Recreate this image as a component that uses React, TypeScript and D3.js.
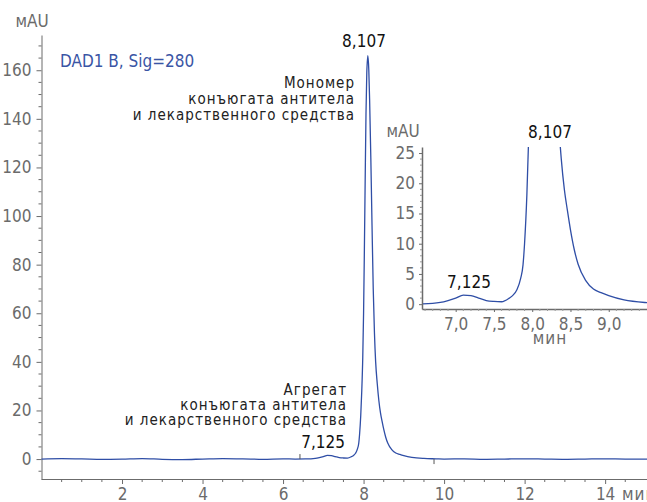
import React, { useEffect, useRef } from "react";
import * as d3 from "d3";

// retention time (min) and detector signal (mAU)
const times = [
  0, 0.5, 1, 1.5, 2, 2.5, 3, 3.5, 4, 4.5, 5, 5.5, 6, 6.3, 6.56, 6.8, 6.9, 7.0,
  7.1, 7.2, 7.3, 7.4, 7.5, 7.6, 7.7, 7.75, 7.8, 7.85, 7.88, 7.9, 7.93, 7.955,
  7.98, 8.0, 8.02, 8.04, 8.06, 8.08, 8.107, 8.13, 8.15, 8.18, 8.21, 8.24, 8.27,
  8.3, 8.34, 8.38, 8.42, 8.46, 8.5, 8.55, 8.6, 8.7, 8.8, 8.9, 9.0, 9.2, 9.5,
  9.8, 10, 10.5, 11, 11.5, 12, 12.5, 13, 13.5, 14, 14.5, 15.04,
];
const signal = [
  0, 0.2, 0.1, -0.1, 0, 0.2, -0.1, -0.2, 0, 0.2, 0.1, -0.1, 0.1, 0, 0.05, 0.3,
  0.6, 1.0, 1.5, 1.4, 1.0, 0.6, 0.45, 0.4, 1.0, 1.5, 2.4, 4.3, 6.5, 10, 18, 28,
  42, 60, 86, 115, 142, 159, 166, 160, 148, 124, 96, 70, 52, 40, 31, 24, 19,
  15.5, 12.3, 9, 6.6, 3.9, 2.5, 1.9, 1.4, 0.7, 0.25, 0.1, 0, 0.1, -0.1, 0,
  0.1, 0, -0.1, 0, 0.1, 0, 0,
];

const mainYTicks = [0, 20, 40, 60, 80, 100, 120, 140, 160];
const mainXTicks = [2, 4, 6, 8, 10, 12, 14];
const insetYTicks = [0, 5, 10, 15, 20, 25];
const insetXTicks = [7.0, 7.5, 8.0, 8.5, 9.0];

// integration event marks on the baseline
const eventMarks = [
  { t: 6.42, dir: -1 },
  { t: 9.75, dir: 1 },
];

const monomerLabel = ["Мономер", "конъюгата антитела", "и лекарственного средства"];
const aggregateLabel = ["Агрегат", "конъюгата антитела", "и лекарственного средства"];

const FONT = "'Liberation Sans Narrow', 'DejaVu Sans Condensed', Roboto, sans-serif";
const AXIS = "#6b6b6b";
const LINE = "#2f4ea6";

const App = () => {
  const svgRef = useRef(null);

  useEffect(() => {
    const width = 647;
    const height = 502;
    const svg = d3.select(svgRef.current);
    svg.selectAll("*").remove();
    svg.attr("width", width).attr("height", height);

    const data = times.map((t, i) => ({ t, v: signal[i] }));

    // ---- main chart
    const x = d3.scaleLinear().domain([0, 15.04]).range([41.5, 647]);
    const y = d3.scaleLinear().domain([-8.2, 174.5]).range([479, 35]);

    const gx = svg
      .append("g")
      .attr("transform", `translate(0,479)`)
      .call(
        d3.axisBottom(x).tickValues(mainXTicks).tickSize(5).tickSizeOuter(0).tickPadding(4)
      );
    gx.select(".domain").attr("stroke", AXIS).attr("d", `M41.5,0.5H647`);
    gx.selectAll(".tick line").attr("stroke", AXIS);
    gx.selectAll("text")
      .style("font-family", FONT)
      .style("font-size", "17px")
      .attr("fill", AXIS);

    const minorX = d3.range(0.5, 15, 0.5).filter((d) => d % 2 !== 0);
    svg
      .append("g")
      .selectAll("line")
      .data(minorX)
      .join("line")
      .attr("x1", (d) => x(d))
      .attr("x2", (d) => x(d))
      .attr("y1", 479)
      .attr("y2", 482)
      .attr("stroke", AXIS);

    const gy = svg
      .append("g")
      .attr("transform", `translate(41.5,0)`)
      .call(d3.axisLeft(y).tickValues(mainYTicks).tickSize(5).tickSizeOuter(0).tickPadding(5));
    gy.select(".domain").attr("stroke", AXIS);
    gy.selectAll(".tick line").attr("stroke", AXIS);
    gy.selectAll("text")
      .style("font-family", FONT)
      .style("font-size", "17px")
      .attr("fill", AXIS);

    const minorY = d3.range(-5, 174, 5).filter((d) => d % 20 !== 0);
    svg
      .append("g")
      .selectAll("line")
      .data(minorY)
      .join("line")
      .attr("x1", 38.5)
      .attr("x2", 41.5)
      .attr("y1", (d) => y(d))
      .attr("y2", (d) => y(d))
      .attr("stroke", AXIS);

    svg
      .append("text")
      .attr("x", 32)
      .attr("y", 27)
      .attr("text-anchor", "middle")
      .style("font-family", FONT)
      .style("font-size", "17px")
      .attr("fill", AXIS)
      .text("мAU");

    svg
      .append("text")
      .attr("x", 622)
      .attr("y", 500)
      .attr("text-anchor", "start")
      .style("font-family", FONT)
      .style("font-size", "17px")
      .style("letter-spacing", "1px")
      .attr("fill", AXIS)
      .text("мин");

    const line = d3
      .line()
      .x((d) => x(d.t))
      .y((d) => y(d.v))
      .curve(d3.curveMonotoneX);

    svg
      .append("path")
      .datum(data)
      .attr("d", line)
      .attr("fill", "none")
      .attr("stroke", LINE)
      .attr("stroke-width", 1.3);

    svg
      .append("g")
      .selectAll("line")
      .data(eventMarks)
      .join("line")
      .attr("x1", (d) => x(d.t))
      .attr("x2", (d) => x(d.t))
      .attr("y1", y(0))
      .attr("y2", (d) => y(0) + d.dir * 5)
      .attr("stroke", "#555");

    svg
      .append("text")
      .attr("x", 60)
      .attr("y", 67)
      .style("font-family", FONT)
      .style("font-size", "17px")
      .attr("fill", "#3a55a5")
      .text("DAD1 B, Sig=280");

    const label = (lines, xr, y0, dy) => {
      svg
        .append("g")
        .selectAll("text")
        .data(lines)
        .join("text")
        .attr("x", xr)
        .attr("y", (d, i) => y0 + i * dy)
        .attr("text-anchor", "end")
        .style("font-family", FONT)
        .style("font-size", "15px")
        .style("letter-spacing", "1px")
        .attr("fill", "#222")
        .text((d) => d);
    };
    label(monomerLabel, 355, 88, 16);
    label(aggregateLabel, 347, 395, 15);

    svg
      .append("text")
      .attr("x", 364)
      .attr("y", 47)
      .attr("text-anchor", "middle")
      .style("font-family", FONT)
      .style("font-size", "17px")
      .attr("fill", "#111")
      .text("8,107");

    svg
      .append("text")
      .attr("x", 345)
      .attr("y", 448)
      .attr("text-anchor", "end")
      .style("font-family", FONT)
      .style("font-size", "17px")
      .attr("fill", "#111")
      .text("7,125");

    // ---- inset
    const ix = d3.scaleLinear().domain([6.56, 9.5]).range([422, 647]);
    const iy = d3.scaleLinear().domain([-0.8, 26]).range([309, 147]);
    const fmt = (d) => d3.format(".1f")(d).replace(".", ",");

    const igx = svg
      .append("g")
      .attr("transform", `translate(0,309)`)
      .call(
        d3.axisBottom(ix).tickValues(insetXTicks).tickSize(3).tickSizeOuter(0).tickPadding(6).tickFormat(fmt)
      );
    igx.select(".domain").attr("stroke", AXIS).attr("stroke-width", 1.5);
    igx.selectAll(".tick line").attr("stroke", AXIS);
    igx.selectAll("text")
      .style("font-family", FONT)
      .style("font-size", "17px")
      .attr("fill", AXIS);

    svg
      .append("g")
      .selectAll("line")
      .data(d3.range(6.6, 9.5, 0.1).filter((d) => Math.abs(d * 2 - Math.round(d * 2)) > 0.01))
      .join("line")
      .attr("x1", (d) => ix(d))
      .attr("x2", (d) => ix(d))
      .attr("y1", 309)
      .attr("y2", 311)
      .attr("stroke", "#999");

    const igy = svg
      .append("g")
      .attr("transform", `translate(422,0)`)
      .call(d3.axisLeft(iy).tickValues(insetYTicks).tickSize(3).tickSizeOuter(0).tickPadding(4));
    igy.select(".domain").attr("stroke", AXIS).attr("stroke-width", 1.5);
    igy.selectAll(".tick line").attr("stroke", AXIS);
    igy.selectAll("text")
      .style("font-family", FONT)
      .style("font-size", "17px")
      .attr("fill", AXIS);

    svg
      .append("g")
      .selectAll("line")
      .data(d3.range(0, 26, 1).filter((d) => d % 5 !== 0))
      .join("line")
      .attr("x1", 420)
      .attr("x2", 422)
      .attr("y1", (d) => iy(d))
      .attr("y2", (d) => iy(d))
      .attr("stroke", "#999");

    svg
      .append("text")
      .attr("x", 403)
      .attr("y", 137)
      .attr("text-anchor", "middle")
      .style("font-family", FONT)
      .style("font-size", "17px")
      .attr("fill", AXIS)
      .text("мAU");

    svg
      .append("text")
      .attr("x", 550)
      .attr("y", 344)
      .attr("text-anchor", "middle")
      .style("font-family", FONT)
      .style("font-size", "17px")
      .style("letter-spacing", "1px")
      .attr("fill", AXIS)
      .text("мин");

    svg
      .append("clipPath")
      .attr("id", "inset-clip")
      .append("rect")
      .attr("x", 423)
      .attr("y", 147)
      .attr("width", 224)
      .attr("height", 162);

    const iline = d3
      .line()
      .x((d) => ix(d.t))
      .y((d) => iy(d.v))
      .curve(d3.curveMonotoneX);

    svg
      .append("path")
      .datum(data.filter((d) => d.t >= 6.3 && d.t <= 9.8))
      .attr("d", iline)
      .attr("clip-path", "url(#inset-clip)")
      .attr("fill", "none")
      .attr("stroke", LINE)
      .attr("stroke-width", 1.3);

    svg
      .append("text")
      .attr("x", 550)
      .attr("y", 138)
      .attr("text-anchor", "middle")
      .style("font-family", FONT)
      .style("font-size", "17px")
      .attr("fill", "#111")
      .text("8,107");

    svg
      .append("text")
      .attr("x", 469)
      .attr("y", 288)
      .attr("text-anchor", "middle")
      .style("font-family", FONT)
      .style("font-size", "17px")
      .attr("fill", "#111")
      .text("7,125");
  }, []);

  return (
    <div style={{ position: "absolute", left: 0, top: 0, width: 647, height: 502, background: "white" }}>
      <svg ref={svgRef} style={{ display: "block" }}></svg>
    </div>
  );
};

export default App;
